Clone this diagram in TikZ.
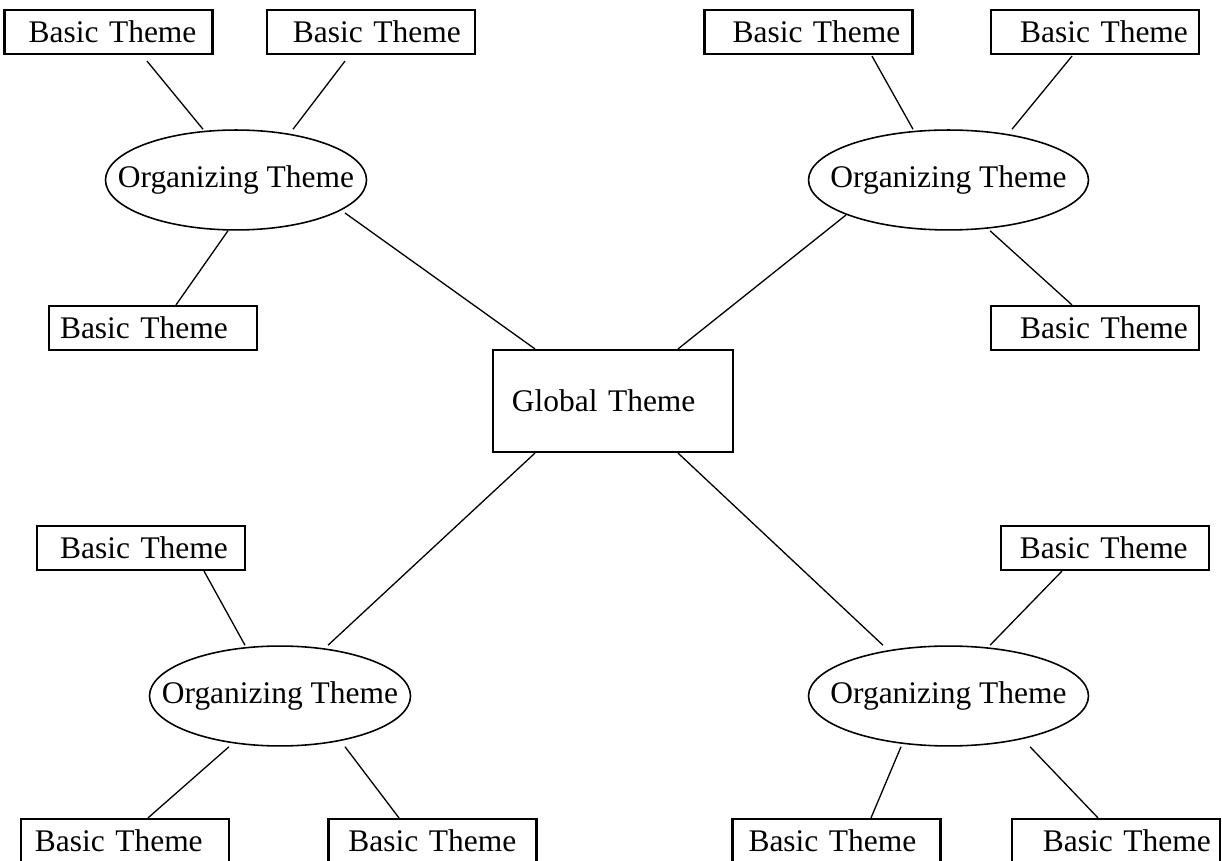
\documentclass[tikz,border=0pt]{standalone}
\usepackage{fontspec}
\setmainfont{Liberation Serif}
\usetikzlibrary{shapes.geometric, calc}

\tikzset{
  basicbox/.style={draw, line width=0.8pt, text width=79.3pt, minimum height=16.8pt,
    inner xsep=0pt, align=left, execute at begin node={\hspace*{#1}}},
  basicbox/.default=8pt,
  orgellipse/.style={draw, ellipse, line width=0.6pt, inner ysep=0pt, inner xsep=#1,
    minimum height=38.1pt},
  orgellipse/.default=-9.85pt,
  globalbox/.style={draw, line width=0.8pt, text width=91.5pt, minimum height=38.9pt,
    inner xsep=0pt, align=left, execute at begin node={\hspace*{7.2pt}}},
  link/.style={line width=0.5pt}
}

\begin{document}
\begin{tikzpicture}[x=0.3813pt, y=-0.3813pt,
    every node/.append style={font=\fontsize{12pt}{14pt}\selectfont}]
  \useasboundingbox (0, 0) rectangle (1222, 861);

  % global theme
  \node[globalbox]
    (glob) at (613, 401) {Global Theme};

  % organizing themes
  \node[orgellipse]
    (otl) at (236, 180) {Organizing Theme};
  \node[orgellipse=-7.3pt]
    (otr) at (948.5, 180) {Organizing Theme};
  \node[orgellipse]
    (obl) at (280, 696) {Organizing Theme};
  \node[orgellipse=-7.3pt]
    (obr) at (948.5, 696) {Organizing Theme};

  % basic themes
  \node[basicbox=9.2pt]
    (tl1) at (108.5, 32) {Basic Theme};
  \node[basicbox=9.9pt]
    (tl2) at (371, 32) {Basic Theme};
  \node[basicbox=10.7pt]
    (tr1) at (808.5, 32) {Basic Theme};
  \node[basicbox=11.1pt]
    (tr2) at (1095, 32) {Basic Theme};
  \node[basicbox=4.2pt]
    (ml) at (153, 328) {Basic Theme};
  \node[basicbox=11.1pt]
    (mr) at (1095, 328) {Basic Theme};
  \node[basicbox=8.8pt]
    (bl1) at (141, 548) {Basic Theme};
  \node[basicbox=7.2pt]
    (br1) at (1105, 548) {Basic Theme};
  \node[basicbox=5.3pt]
    (bla) at (125, 841) {Basic Theme};
  \node[basicbox=7.6pt]
    (blb) at (432.5, 841) {Basic Theme};
  \node[basicbox=6.1pt]
    (bra) at (836.5, 841) {Basic Theme};
  \node[basicbox=11.8pt]
    (brb) at (1116, 841) {Basic Theme};

  % links to the global theme
  \draw[link] ($(otl.center)+(109, 33)$) -- ($(glob.north)+(-78, 0)$);
  \draw[link] ($(otr.center)+(-102.5, 35)$) -- ($(glob.north)+(65, 0)$);
  \draw[link] ($(glob.south)+(-78, 0)$) -- ($(obl.north)+(48, 0)$);
  \draw[link] ($(glob.south)+(65, 0)$) -- ($(obr.north)+(-65.5, 0)$);

  % links to the basic themes
  \draw[link] ($(tl1.south)+(38.5, 6)$) -- ($(otl.north)+(-33, 0)$);
  \draw[link] ($(tl2.south)+(-26, 6)$) -- ($(otl.north)+(57, 0)$);
  \draw[link] ($(otl.south)+(-8, 0)$) -- ($(ml.north)+(23, 0)$);
  \draw[link] ($(tr1.south)+(63.5, 1)$) -- ($(otr.north)+(-35.5, 0)$);
  \draw[link] ($(tr2.south)+(-23, 1)$) -- ($(otr.north)+(63.5, 0)$);
  \draw[link] ($(otr.south)+(41.5, 0)$) -- ($(mr.north)+(-23, 0)$);
  \draw[link] ($(bl1.south)+(63, 0)$) -- ($(obl.north)+(-35, 0)$);
  \draw[link] ($(br1.south)+(-43, 0)$) -- ($(obr.north)+(41.5, 0)$);
  \draw[link] ($(obl.south)+(-51, 0)$) -- ($(bla.north)+(23, 0)$);
  \draw[link] ($(obl.south)+(65, 0)$) -- ($(blb.north)+(-33.5, 0)$);
  \draw[link] ($(obr.south)+(-47.5, 0)$) -- ($(bra.north)+(34.5, 0)$);
  \draw[link] ($(obr.south)+(81.5, 0)$) -- ($(brb.north)+(-18, 0)$);
\end{tikzpicture}
\end{document}
